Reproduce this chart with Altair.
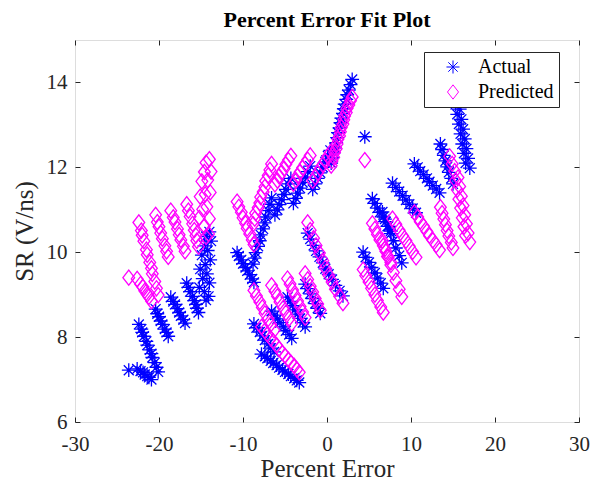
import altair as alt
import pandas as pd

# ---- data (percent error, actual SR, predicted SR) ----
pct_error = [
    -23.6,
    -22.6, -22.2, -21.9, -21.7, -21.4, -21.2, -20.9,
    -22.4, -22.1, -22.0, -21.8, -21.5, -21.4, -21.1, -20.9, -20.8, -20.5, -20.3, -20.1,
    -20.4, -20.2, -20.0, -19.8, -19.6, -19.3, -19.1, -18.9,
    -18.6, -18.3, -18.1, -17.8, -17.6, -17.4, -17.1, -16.9,
    -16.7, -16.5, -16.3, -16.0, -15.8, -15.6, -15.5, -15.3,
    -14.0, -14.4, -13.8, -14.6, -14.2, -14.9, -13.9, -14.5, -15.1, -14.3, -14.8, -14.0, -15.2, -14.6, -14.1, -14.4,
    -10.7, -10.5, -10.2, -10.0, -9.7, -9.5, -9.2, -8.9, -8.7,
    -8.8, -8.6, -8.5, -8.2, -8.0, -7.9, -7.6, -7.4, -7.3, -7.0, -6.8, -6.6,
    -6.2, -5.9, -5.7, -5.4, -5.1, -4.9, -4.6, -4.3,
    -4.0, -3.7, -3.5, -3.2, -2.9, -2.6, -2.3, -2.0,
    -1.7, -1.4, -1.1, -0.8, -0.5, -0.2, 0.1, 0.4,
    0.5, 0.6, 0.8, 0.9, 1.1, 1.2, 1.3, 1.5, 1.6, 1.7, 1.9, 2.0, 2.1, 2.3, 2.4, 2.6, 2.8, 3.0,
    4.5,
    -2.3, -2.0, -1.6, -1.3, -0.9, -0.5, -0.2, 0.2, 0.6, 1.0, 1.5, 1.9,
    -8.7, -8.4, -8.0, -7.7, -7.4, -7.0, -6.7, -6.3,
    -6.6, -6.2, -5.9, -5.6, -5.2, -4.9, -4.5, -4.2,
    -4.7, -4.4, -4.1, -3.8, -3.5, -3.2, -2.9, -2.6,
    -2.6, -2.3, -2.0, -1.7, -1.4, -1.1, -0.8,
    -7.8, -7.4, -7.1, -6.7, -6.4, -6.0, -5.7, -5.3, -5.0, -4.6, -4.3, -3.9, -3.6, -3.3,
    4.3, 4.6, 5.0, 5.3, 5.7, 6.0, 6.4, 6.7,
    5.4, 5.7, 6.0, 6.3, 6.7, 7.0, 7.3, 7.6,
    6.6, 6.9, 7.2, 7.6, 7.9, 8.2, 8.6, 8.9,
    7.8, 8.2, 8.6, 9.0, 9.4, 9.8, 10.2, 10.6,
    10.4, 10.8, 11.1, 11.5, 11.9, 12.2, 12.6, 13.0, 13.4,
    13.5, 13.7, 13.9, 14.1, 14.3, 14.5, 14.8, 15.0,
    14.6, 14.9, 15.2, 15.6, 15.3, 15.8, 15.5, 16.0, 15.7, 16.2, 15.9, 16.4, 16.1, 16.6, 16.3, 16.8, 16.5, 17.0,
]

actual_sr = [
    7.22,
    7.25, 7.20, 7.17, 7.12, 7.08, 7.05, 7.00,
    8.30, 8.19, 8.11, 8.02, 7.90, 7.81, 7.70, 7.61, 7.52, 7.40, 7.29, 7.18,
    8.66, 8.55, 8.48, 8.38, 8.30, 8.19, 8.11, 8.02,
    8.94, 8.84, 8.77, 8.67, 8.58, 8.50, 8.41, 8.33,
    9.27, 9.17, 9.07, 8.96, 8.86, 8.77, 8.68, 8.58,
    10.48, 10.37, 10.26, 10.15, 10.04, 9.93, 9.82, 9.71, 9.60, 9.49, 9.38, 9.28, 9.17, 9.07, 8.96, 8.87,
    9.99, 9.91, 9.82, 9.73, 9.64, 9.56, 9.47, 9.37, 9.29,
    9.72, 9.86, 9.99, 10.14, 10.27, 10.41, 10.55, 10.69, 10.83, 10.98, 11.13, 11.28,
    10.88, 11.00, 11.12, 11.24, 11.36, 11.48, 11.61, 11.74,
    11.15, 11.27, 11.39, 11.51, 11.64, 11.77, 11.90, 12.03,
    11.48, 11.61, 11.74, 11.87, 12.00, 12.13, 12.27, 12.40,
    12.10, 12.22, 12.34, 12.46, 12.58, 12.70, 12.82, 12.93, 13.05, 13.16, 13.27, 13.38, 13.49, 13.60, 13.71, 13.82, 13.95, 14.07,
    12.72,
    10.45, 10.31, 10.16, 10.03, 9.89, 9.75, 9.61, 9.48, 9.36, 9.22, 9.09, 8.97,
    8.31, 8.22, 8.12, 8.03, 7.93, 7.84, 7.74, 7.65,
    8.61, 8.52, 8.43, 8.34, 8.24, 8.15, 8.06, 7.97,
    8.94, 8.84, 8.74, 8.64, 8.54, 8.44, 8.34, 8.24,
    9.25, 9.14, 9.02, 8.91, 8.79, 8.68, 8.56,
    7.60, 7.55, 7.50, 7.44, 7.39, 7.34, 7.28, 7.23, 7.18, 7.13, 7.08, 7.03, 6.98, 6.93,
    10.00, 9.88, 9.76, 9.64, 9.51, 9.39, 9.27, 9.15,
    11.26, 11.15, 11.04, 10.94, 10.83, 10.72, 10.61, 10.50,
    10.95, 10.78, 10.61, 10.44, 10.27, 10.10, 9.92, 9.75,
    11.63, 11.53, 11.43, 11.33, 11.23, 11.13, 11.03, 10.93,
    12.08, 12.00, 11.91, 11.83, 11.74, 11.66, 11.57, 11.49, 11.40,
    12.55, 12.42, 12.28, 12.15, 12.01, 11.88, 11.74, 11.61,
    14.05, 13.88, 13.72, 13.60, 13.48, 13.37, 13.25, 13.13, 13.02, 12.90, 12.79, 12.67, 12.55, 12.44, 12.33, 12.21, 12.10, 11.98,
]

predicted_sr = [
    9.40,
    9.37, 9.25, 9.18, 9.09, 9.01, 8.95, 8.85,
    10.70, 10.51, 10.40, 10.26, 10.06, 9.94, 9.76, 9.62, 9.49, 9.31, 9.15, 8.99,
    10.88, 10.71, 10.60, 10.45, 10.32, 10.15, 10.02, 9.89,
    10.98, 10.82, 10.71, 10.55, 10.41, 10.29, 10.14, 10.02,
    11.13, 10.98, 10.84, 10.67, 10.52, 10.39, 10.27, 10.13,
    12.19, 12.11, 11.90, 11.89, 11.70, 11.67, 11.41, 11.36, 11.31, 11.07, 11.01, 10.79, 10.81, 10.62, 10.43, 10.36,
    11.19, 11.07, 10.94, 10.81, 10.68, 10.56, 10.43, 10.29, 10.18,
    10.66, 10.79, 10.92, 11.05, 11.16, 11.30, 11.42, 11.54, 11.68, 11.81, 11.94, 12.08,
    11.60, 11.69, 11.79, 11.88, 11.97, 12.07, 12.17, 12.27,
    11.61, 11.70, 11.80, 11.89, 11.99, 12.08, 12.18, 12.28,
    11.68, 11.77, 11.87, 11.97, 12.06, 12.15, 12.26, 12.35,
    12.04, 12.15, 12.24, 12.35, 12.44, 12.55, 12.66, 12.74, 12.84, 12.94, 13.02, 13.12, 13.21, 13.29, 13.39, 13.47, 13.57, 13.66,
    12.17,
    10.70, 10.52, 10.33, 10.16, 9.98, 9.80, 9.63, 9.46, 9.30, 9.13, 8.96, 8.80,
    9.10, 8.97, 8.83, 8.70, 8.56, 8.43, 8.30, 8.16,
    9.22, 9.08, 8.96, 8.83, 8.69, 8.57, 8.44, 8.32,
    9.38, 9.25, 9.11, 8.98, 8.85, 8.72, 8.59, 8.46,
    9.50, 9.36, 9.20, 9.06, 8.91, 8.78, 8.63,
    8.24, 8.15, 8.07, 7.97, 7.90, 7.81, 7.72, 7.63, 7.56, 7.47, 7.40, 7.32, 7.24, 7.17,
    9.59, 9.45, 9.30, 9.15, 9.00, 8.86, 8.71, 8.58,
    10.68, 10.55, 10.42, 10.29, 10.15, 10.02, 9.89, 9.76,
    10.27, 10.08, 9.90, 9.70, 9.52, 9.33, 9.13, 8.95,
    10.79, 10.66, 10.52, 10.39, 10.27, 10.14, 10.01, 9.88,
    10.94, 10.83, 10.72, 10.61, 10.49, 10.39, 10.28, 10.17, 10.05,
    11.06, 10.92, 10.78, 10.65, 10.51, 10.38, 10.23, 10.10,
    12.26, 12.08, 11.91, 11.76, 11.69, 11.55, 11.47, 11.32, 11.25, 11.10, 11.04, 10.88, 10.81, 10.67, 10.60, 10.45, 10.39, 10.24,
]

series_names = ["Actual", "Predicted"]
series_colors = ["#0000ff", "#ff00ff"]
x_ticks = [-30, -20, -10, 0, 10, 20, 30]
y_ticks = [6, 8, 10, 12, 14]

rows = []
for pe, a in zip(pct_error, actual_sr):
    rows.append({"pe": pe, "sr": a, "series": "Actual"})
for pe, p in zip(pct_error, predicted_sr):
    rows.append({"pe": pe, "sr": p, "series": "Predicted"})
df = pd.DataFrame(rows)

ASTERISK = "M0,-1L0,1M-1,0L1,0M-0.72,-0.72L0.72,0.72M-0.72,0.72L0.72,-0.72"
DIAMOND = "M-0.85,0L0,-1.1L0.85,0L0,1.1Z"

FONT = "Liberation Serif"
AX = "#262626"

x_scale = alt.Scale(domain=[-30, 30], nice=False, zero=False)
y_scale = alt.Scale(domain=[6, 15], nice=False, zero=False)

legend = alt.Legend(
    title=None, orient="none", legendX=349, legendY=12,
    fillColor="white", strokeColor=AX, padding=5,
    symbolOffset=14, labelOffset=15, rowPadding=5,
    labelFont=FONT, labelFontSize=20, labelColor="black",
    symbolSize=170, symbolStrokeWidth=1, labelLimit=300,
)

points = alt.Chart(df).mark_point(filled=False, strokeWidth=1.3, opacity=1, size=190).encode(
    x=alt.X("pe:Q", scale=x_scale,
            axis=alt.Axis(orient="bottom", values=x_ticks, title="Percent Error", grid=False,
                          domain=False, offset=-5, tickSize=5, tickColor=AX, labelPadding=11,
                          labelExpr="'' + datum.value",
                          labelFont=FONT, labelFontSize=21, labelColor=AX, titleFont=FONT,
                          titleFontSize=25, titleFontWeight="normal", titleColor=AX, titlePadding=2,
                          labelFlush=False)),
    y=alt.Y("sr:Q", scale=y_scale,
            axis=alt.Axis(orient="left", values=y_ticks, title="SR (V/ns)", grid=False,
                          domain=False, offset=-5, tickSize=5, tickColor=AX, labelPadding=8,
                          labelExpr="'' + datum.value",
                          labelFont=FONT, labelFontSize=21, labelColor=AX, titleFont=FONT,
                          titleFontSize=25, titleFontWeight="normal", titleColor=AX, titlePadding=9,
                          labelFlush=False)),
    color=alt.Color("series:N", scale=alt.Scale(domain=series_names, range=series_colors), legend=legend),
    shape=alt.Shape("series:N", scale=alt.Scale(domain=series_names, range=[ASTERISK, DIAMOND]), legend=legend),
)

ghost = alt.Chart(df).mark_point(opacity=0).encode(
    x=alt.X("pe:Q", scale=x_scale,
            axis=alt.Axis(orient="top", values=x_ticks, title=None, labels=False, grid=False,
                          domain=False, offset=-5, tickSize=5, tickColor=AX)),
    y=alt.Y("sr:Q", scale=y_scale,
            axis=alt.Axis(orient="right", values=y_ticks, title=None, labels=False, grid=False,
                          domain=False, offset=-5, tickSize=5, tickColor=AX)),
)

chart = alt.layer(points, ghost).resolve_axis(x="independent", y="independent").properties(
    width=504, height=382,
    autosize=alt.AutoSizeParams(type="none"),
    padding={"left": 67, "top": 32, "right": 14, "bottom": 62},
    title=alt.TitleParams("Percent Error Fit Plot", font=FONT, fontSize=22, fontWeight="bold",
                          color="black", anchor="middle", offset=8),
).configure_view(stroke=AX, strokeWidth=1).configure(background="white")

chart.save("out.html", embed_options={"renderer": "svg", "actions": False})
